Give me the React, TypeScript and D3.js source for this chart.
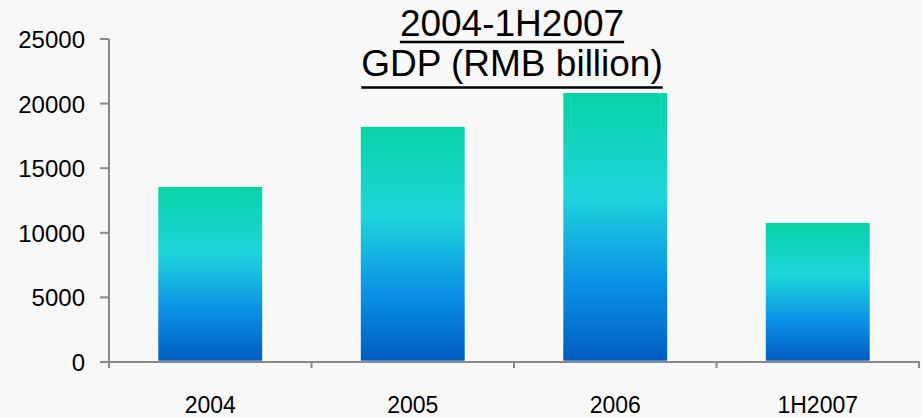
import React, { useEffect, useRef } from "react";
import * as d3 from "d3";

const categories = ["2004", "2005", "2006", "1H2007"];
const gdpValues = [13550, 18200, 20820, 10760];
const yTicks = [0, 5000, 10000, 15000, 20000, 25000];
const titleLines = ["2004-1H2007", "GDP (RMB billion)"];

export default function App() {
  const ref = useRef<SVGSVGElement | null>(null);

  useEffect(() => {
    const svg = d3.select(ref.current);
    svg.selectAll("*").remove();
    const W = 922, H = 417;
    const font = "'Liberation Sans', Arial, sans-serif";
    const axisColor = "#898989";

    svg.append("rect").attr("width", W).attr("height", H).attr("fill", "#f8f8f8");

    const defs = svg.append("defs");
    const grad = defs.append("linearGradient").attr("id", "barGrad")
      .attr("x1", 0).attr("y1", 0).attr("x2", 0).attr("y2", 1);
    [
      [0, "#07d3a6"],
      [0.38, "#1ed5dc"],
      [0.72, "#0a8fe6"],
      [1, "#005dc2"],
    ].forEach(([o, c]) => grad.append("stop").attr("offset", o as number).attr("stop-color", c as string));

    const x = d3.scaleBand<string>().domain(categories).range([109, 919]).padding(0);
    const y = d3.scaleLinear().domain([0, 25000]).range([362, 39]);
    const barW = x.bandwidth() * 0.513;

    svg.append("g").selectAll("rect").data(categories).join("rect")
      .attr("x", (d) => (x(d) as number) + x.bandwidth() / 2 - barW / 2)
      .attr("y", (d, i) => y(gdpValues[i]))
      .attr("width", barW)
      .attr("height", (d, i) => y(0) - 1.3 - y(gdpValues[i]))
      .attr("fill", "url(#barGrad)");

    // y axis
    const gy = svg.append("g");
    gy.append("line").attr("x1", 109).attr("x2", 109).attr("y1", y(25000)).attr("y2", 368)
      .attr("stroke", axisColor).attr("stroke-width", 2);
    gy.selectAll("line.tick").data(yTicks).join("line").attr("class", "tick")
      .attr("x1", 100).attr("x2", 109).attr("y1", (d) => y(d)).attr("y2", (d) => y(d))
      .attr("stroke", axisColor).attr("stroke-width", 2);
    gy.selectAll("text").data(yTicks).join("text")
      .attr("x", 85).attr("y", (d) => y(d) + 9)
      .attr("text-anchor", "end")
      .attr("font-family", font).attr("font-size", 24).attr("fill", "#000")
      .text((d) => String(d));

    // x axis
    const gx = svg.append("g");
    gx.append("line").attr("x1", 108).attr("x2", 920).attr("y1", y(0)).attr("y2", y(0))
      .attr("stroke", axisColor).attr("stroke-width", 2);
    const bounds = categories.map((c) => x(c) as number).concat([919]);
    gx.selectAll("line.tick").data(bounds).join("line").attr("class", "tick")
      .attr("x1", (d) => d).attr("x2", (d) => d).attr("y1", y(0)).attr("y2", 368)
      .attr("stroke", axisColor).attr("stroke-width", 2);
    gx.selectAll("text").data(categories).join("text")
      .attr("x", (d) => (x(d) as number) + x.bandwidth() / 2)
      .attr("y", 413)
      .attr("text-anchor", "middle")
      .attr("font-family", font).attr("font-size", 23).attr("fill", "#000")
      .text((d) => d);

    // title
    const gt = svg.append("g");
    const baselines = [36, 76];
    const ulY = [42, 87.5];
    titleLines.forEach((t, i) => {
      const txt = gt.append("text").attr("x", 512).attr("y", baselines[i])
        .attr("text-anchor", "middle")
        .attr("font-family", font).attr("font-size", 37).attr("fill", "#000")
        .text(t);
      const w = (txt.node() as SVGTextElement).getComputedTextLength();
      gt.append("line").attr("x1", 512 - w / 2).attr("x2", 512 + w / 2)
        .attr("y1", ulY[i]).attr("y2", ulY[i])
        .attr("stroke", "#000").attr("stroke-width", 2.6);
    });
  }, []);

  return (
    <svg ref={ref} width={922} height={417}
      style={{ position: "fixed", left: 0, top: 0, display: "block" }} />
  );
}
